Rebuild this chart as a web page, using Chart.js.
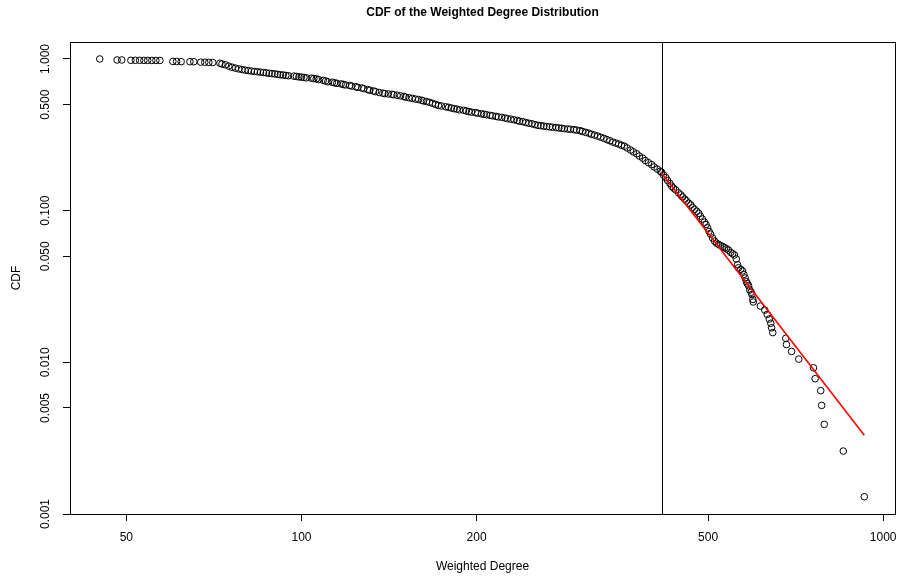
<!DOCTYPE html>
<html><head><meta charset="utf-8">
<script src="https://cdn.jsdelivr.net/npm/chart.js@4.4.0/dist/chart.umd.min.js"></script>
<style>html,body{margin:0;padding:0;background:#fff;}canvas{display:block;}</style>
</head><body>
<canvas id="c" width="900" height="581"></canvas>
<script>
// Weighted degree values (x) and their CDF values (y)
const degree = [
 45.0,48.2,49.1,50.9,51.8,52.7,53.6,54.4,55.3,56.2,57.1,60.1,61.0,62.1,64.3,65.3,67.1,68.2,69.3,70.4,72.4,
 73,74,75,76,77,78,79,80,81,82,
 83,84,85,86,87,88,89,90,91,92,
 93,94,95,97,98,99,100,101,102,104,
 105,106,107,109,110,111,113,114,115,117,
 118,119,121,122,124,125,127,128,130,131,
 133,134,136,138,139,141,143,144,146,148,
 150,151,153,155,157,159,161,162,164,166,
 168,170,172,174,177,179,181,183,185,187,
 190,192,194,196,199,201,204,206,208,211,
 213,216,218,221,224,226,229,232,235,237,
 240,243,246,249,252,255,258,261,264,267,
 270,274,277,280,283,287,290,294,297,301,
 304,308,312,315,319,323,327,331,335,339,
 343,347,351,355,359,363,368,372,377,381,
 386,390,395,400,404,409,414,
 416,419,423,426,430,433,436,440,445,449,452,456,459,463,467,470,474,478,482,485,489,
 493,496,499,502,505,509,513,517,521,525,530,534,538,542,547,551,555,559,562,564,
 569,573,576,579,582,584,587,590,593,595,597,598,
 615,626,632,637,641,643,646,680,682,696,716,759,764,781,784,792,854,928
];
const cdf = [
 1.000,0.985,0.985,0.980,0.980,0.980,0.979,0.979,0.978,0.978,0.978,0.963,0.963,0.960,0.959,0.959,0.953,0.952,0.950,0.948,0.937,
 0.926,0.915,0.897,0.882,0.870,0.860,0.852,0.844,0.838,0.833,
 0.827,0.824,0.819,0.814,0.810,0.805,0.801,0.797,0.792,0.787,
 0.784,0.779,0.775,0.771,0.767,0.762,0.759,0.755,0.751,0.747,
 0.743,0.739,0.731,0.723,0.716,0.708,0.702,0.696,0.691,0.685,
 0.679,0.674,0.669,0.663,0.656,0.650,0.644,0.637,0.629,0.622,
 0.615,0.609,0.601,0.595,0.591,0.588,0.585,0.581,0.577,0.571,
 0.566,0.560,0.555,0.550,0.544,0.540,0.534,0.529,0.524,0.518,
 0.510,0.502,0.494,0.490,0.484,0.480,0.475,0.470,0.467,0.462,
 0.459,0.454,0.450,0.446,0.443,0.439,0.435,0.432,0.429,0.425,
 0.422,0.418,0.415,0.412,0.408,0.404,0.401,0.397,0.393,0.389,
 0.386,0.381,0.377,0.374,0.369,0.365,0.363,0.361,0.358,0.357,
 0.355,0.353,0.351,0.349,0.347,0.345,0.344,0.342,0.340,0.337,
 0.333,0.328,0.324,0.319,0.315,0.310,0.305,0.300,0.294,0.289,
 0.283,0.279,0.275,0.270,0.266,0.259,0.251,0.244,0.237,0.229,
 0.222,0.214,0.207,0.201,0.194,0.188,0.182,
 0.179,0.172,0.165,0.158,0.151,0.145,0.141,0.137,0.131,0.127,0.123,0.119,0.116,0.112,0.109,0.105,0.102,0.099,0.096,0.092,0.088,
 0.084,0.081,0.077,0.073,0.070,0.066,0.063,0.061,0.060,0.059,0.058,0.057,0.056,0.055,0.053,0.052,0.051,0.048,0.044,0.042,
 0.041,0.040,0.038,0.036,0.034,0.033,0.032,0.030,0.029,0.028,0.026,0.025,
 0.0235,0.0221,0.0207,0.0193,0.0181,0.0169,0.0157,0.0144,0.0131,0.0118,0.0105,0.0092,0.0078,0.0065,0.0052,0.0039,0.0026,0.0013
];
// Power-law fit line (red) and the fitted lower cut-off (vertical line)
const fitDegree = [416, 928];
const fitCdf = [0.177, 0.0033];
const cutoff = [416];
// Axis ticks
const xTicks = [50, 100, 200, 500, 1000];
const xTickLabels = ['50', '100', '200', '500', '1000'];
const yTicks = [0.001, 0.005, 0.01, 0.05, 0.1, 0.5, 1];
const yTickLabels = ['0.001', '0.005', '0.010', '0.050', '0.100', '0.500', '1.000'];

const FONT = "'Liberation Sans', Arial, Helvetica, sans-serif";
Chart.defaults.color = '#000';
Chart.defaults.font.family = FONT;

const points = degree.map((d, i) => ({x: d, y: cdf[i]}));
const fit = fitDegree.map((d, i) => ({x: d, y: fitCdf[i]}));

const framePlugin = {
  id: 'frame',
  beforeDatasetsDraw(chart) {
    const {ctx, chartArea: a, scales: {x}} = chart;
    ctx.save();
    ctx.strokeStyle = '#000';
    ctx.lineWidth = 1;
    cutoff.forEach(v => {
      const px = Math.round(x.getPixelForValue(v)) + 0.5;
      ctx.beginPath(); ctx.moveTo(px, a.top); ctx.lineTo(px, a.bottom); ctx.stroke();
    });
    ctx.restore();
  },
  afterDraw(chart) {
    const {ctx, chartArea: a} = chart;
    ctx.save();
    ctx.strokeStyle = '#000';
    ctx.lineWidth = 1;
    ctx.strokeRect(Math.round(a.left) + 0.5, Math.round(a.top) + 0.5,
                   Math.round(a.right - a.left), Math.round(a.bottom - a.top));
    ctx.restore();
  }
};

new Chart(document.getElementById('c'), {
  type: 'scatter',
  data: {
    datasets: [
      {
        type: 'line', data: fit, borderColor: '#ff0000', borderWidth: 1.6,
        pointRadius: 0, fill: false, order: 0
      },
      {
        data: points, pointStyle: 'circle', pointRadius: 3.3,
        pointBorderColor: '#000', pointBackgroundColor: 'rgba(0,0,0,0)',
        pointBorderWidth: 1, order: 1
      }
    ]
  },
  options: {
    responsive: false,
    animation: false,
    events: [],
    layout: {padding: {top: 0, right: 1, bottom: 0, left: 0}},
    plugins: {
      legend: {display: false},
      tooltip: {enabled: false},
      title: {
        display: true, fullSize: false,
        text: 'CDF of the Weighted Degree Distribution',
        color: '#000',
        font: {family: FONT, size: 12, weight: 'bold'},
        padding: {top: 5, bottom: 22.6}
      }
    },
    scales: {
      x: {
        type: 'logarithmic', min: 40, max: 1048,
        afterBuildTicks: s => { s.ticks = xTicks.map(v => ({value: v})); },
        afterFit: s => { s.height = 67; s.paddingLeft = 0; s.paddingRight = 0; },
        ticks: {
          autoSkip: false, maxRotation: 0, minRotation: 0, padding: 9,
          font: {family: FONT, size: 12}, color: '#000',
          callback: v => { const i = xTicks.indexOf(v); return i >= 0 ? xTickLabels[i] : ''; }
        },
        grid: {drawOnChartArea: false, drawTicks: true, tickLength: 7, tickColor: '#000'},
        border: {display: true, color: '#000'},
        title: {display: true, text: 'Weighted Degree', color: '#000',
                font: {family: FONT, size: 12}, padding: {top: 0, bottom: 7}}
      },
      y: {
        type: 'logarithmic', min: 0.001, max: 1.294,
        afterBuildTicks: s => { s.ticks = yTicks.map(v => ({value: v})); },
        afterFit: s => { s.width = 70; s.paddingTop = 0; s.paddingBottom = 0; },
        ticks: {
          autoSkip: false, minRotation: 90, maxRotation: 90, crossAlign: 'center', padding: 2,
          font: {family: FONT, size: 12}, color: '#000',
          callback: v => { const i = yTicks.indexOf(v); return i >= 0 ? yTickLabels[i] : ''; }
        },
        grid: {drawOnChartArea: false, drawTicks: true, tickLength: 7, tickColor: '#000'},
        border: {display: true, color: '#000'},
        title: {display: true, text: 'CDF', color: '#000',
                font: {family: FONT, size: 12}, padding: {top: 9, bottom: 0}}
      }
    }
  },
  plugins: [framePlugin]
});
</script>
</body></html>
